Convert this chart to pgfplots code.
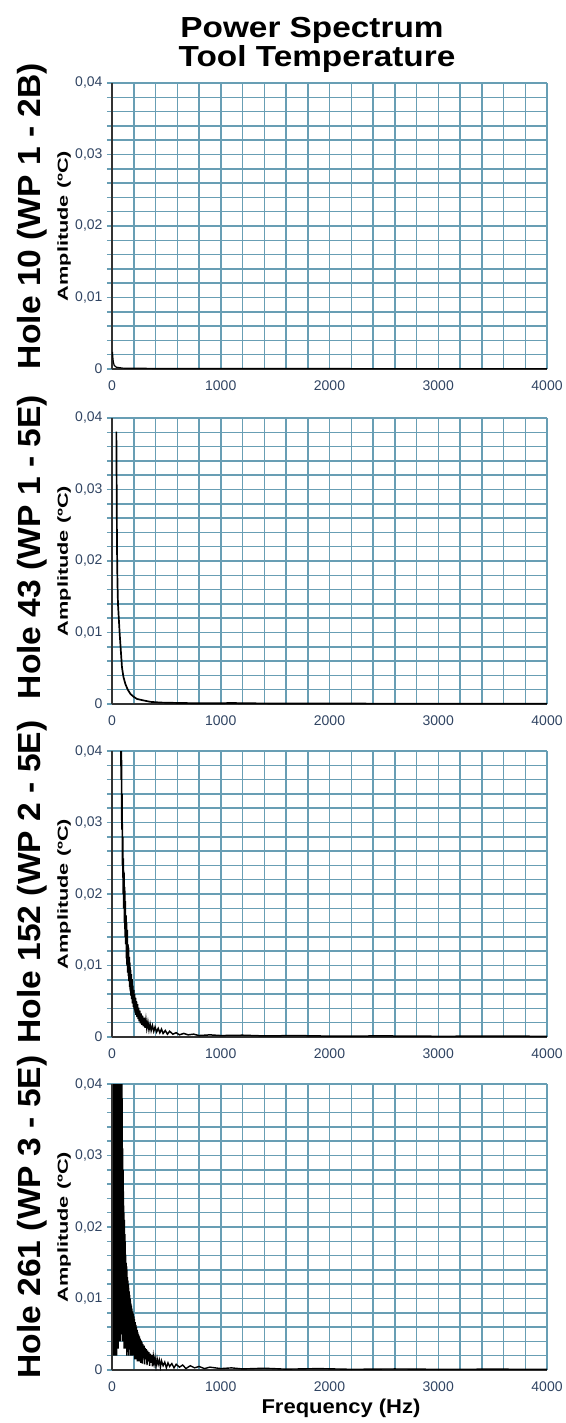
\documentclass[border=0pt]{standalone}
\usepackage{fontspec}
\setmainfont{Liberation Sans}
\usepackage{pgfplots}
\pgfplotsset{compat=1.18}
\definecolor{gridc}{RGB}{104,158,180}
\definecolor{tickc}{RGB}{48,68,98}
\pgfplotsset{panel/.style={
  scale only axis, width=435pt, height=286pt,
  xmin=0,xmax=4000,ymin=0,ymax=0.04,
  scaled y ticks=false, scaled x ticks=false,
  xtick={0,1000,2000,3000,4000},
  xticklabels={0,1000,2000,3000,4000},
  minor x tick num=4,
  ytick={0,0.01,0.02,0.03,0.04},
  yticklabels={0,{0,01},{0,02},{0,03},{0,04}},
  minor y tick num=4,
  grid=both,
  major grid style={gridc, line width=1.5pt},
  minor grid style={gridc, line width=1.5pt},
  axis lines=left, axis line style={-, black!80, line width=1.3pt},
  tick align=outside,
  major tick length=5pt, minor tick length=5pt,
  every major tick/.append style={gridc, line width=1.5pt},
  every minor tick/.append style={gridc, line width=1.5pt},
  every major x tick/.append style={draw=none},
  every minor x tick/.append style={draw=none},
  ticklabel style={font=\fontsize{14}{14}\selectfont, text=tickc},
  yticklabel style={xshift=-1pt},
  xticklabel style={yshift=-3pt},
}}
\begin{document}
\begin{tikzpicture}
\path[use as bounding box] (0,0) rectangle (565pt,-1423pt);
% Panel 1
\begin{axis}[panel, at={(112pt,-83pt)}, anchor=north west]
\addplot[black, line width=1.2pt] coordinates {
(4,0.0024) (8,0.0016) (12,0.0010) (20,0.0005) (40,0.00025) (100,0.00012) (400,0.00008) (1000,0.00006) (4000,0.00005)};
\end{axis}
% Panel 2
\begin{axis}[panel, at={(112pt,-418pt)}, anchor=north west]
\addplot[black, line width=1.7pt] coordinates {
(40,0.0381) (43,0.030) (46,0.0219) (50,0.0172) (55,0.0140) (62,0.0121) (70,0.0100) (77,0.0084) (85,0.0066) (92,0.0051) (105,0.0038) (123,0.0028) (145,0.0020) (170,0.0014) (200,0.0010) (231,0.0007) (290,0.0005) (354,0.0003) (450,0.0002) (600,0.00015) (800,0.0001) (1000,0.0001) (1100,0.00015) (1200,0.0001) (1500,0.00008) (2000,0.00006) (3000,0.00005) (4000,0.00005)};
\end{axis}
% Panel 3
\begin{axis}[panel, at={(112pt,-751pt)}, anchor=north west]
\addplot[black, line width=1.5pt] coordinates {
(80,0.042) (84,0.036) (87,0.040) (90,0.029) (93,0.034) (96,0.024) (99,0.028) (102,0.020) (105,0.025) (108,0.018) (111,0.023) (114,0.016) (117,0.021) (120,0.014) (123,0.019) (126,0.013) (129,0.017) (132,0.011) (135,0.016) (138,0.010) (141,0.015) (144,0.009) (147,0.013) (150,0.0085) (153,0.0125) (156,0.0078) (159,0.0112) (162,0.0070) (165,0.0104) (168,0.0064) (171,0.0094) (174,0.0058) (177,0.0088) (180,0.0053) (184,0.0081) (188,0.0047) (192,0.0072) (196,0.0042) (200,0.0066) (204,0.0039) (208,0.0060) (212,0.0034) (216,0.0055) (220,0.0031) (225,0.0050) (230,0.0028) (235,0.0046) (240,0.0025) (245,0.0041) (250,0.0022) (256,0.0037) (262,0.0019) (268,0.0033) (274,0.0017) (280,0.0030) (288,0.0015) (296,0.0027) (304,0.0013) (312,0.0024) (320,0.0012) (330,0.0021) (340,0.0010) (350,0.0018) (360,0.0009) (372,0.0016) (384,0.0008) (396,0.0014) (410,0.0007) (425,0.0012) (440,0.0006) (455,0.0011) (470,0.0005) (490,0.0009) (510,0.0004) (530,0.0008) (560,0.0004) (590,0.0006) (620,0.0003) (660,0.0005) (700,0.0003) (750,0.0004) (800,0.0002) (900,0.0003) (1000,0.0002) (1200,0.00025) (1400,0.00015) (1700,0.0002) (2000,0.00012) (2500,0.00015) (3000,0.0001) (3500,0.00012) (4000,0.0001)};
\end{axis}
% Panel 4
\begin{axis}[panel, at={(112pt,-1084pt)}, anchor=north west]
\addplot[black, line width=1.4pt] coordinates {
(16,0.002) (18,0.045) (20,0.003) (22,0.045) (24,0.002) (26,0.045) (28,0.004) (30,0.045) (32,0.002) (34,0.045) (36,0.003) (38,0.045) (40,0.005) (42,0.045) (44,0.002) (46,0.045) (48,0.003) (50,0.045) (52,0.006) (54,0.045) (56,0.003) (58,0.045) (60,0.004) (62,0.045) (64,0.008) (66,0.045) (68,0.004) (70,0.045) (72,0.005) (74,0.045) (76,0.010) (78,0.045) (80,0.004) (82,0.045) (84,0.006) (86,0.045) (88,0.009) (90,0.042) (92,0.005) (94,0.038) (96,0.007) (98,0.031) (100,0.004) (102,0.028) (104,0.008) (106,0.025) (108,0.005) (110,0.022) (112,0.003) (114,0.021) (116,0.007) (118,0.019) (120,0.004) (122,0.018) (124,0.006) (126,0.016) (128,0.003) (130,0.015) (132,0.006) (134,0.0145) (136,0.002) (138,0.014) (140,0.005) (142,0.013) (144,0.003) (146,0.0125) (148,0.006) (150,0.012) (152,0.002) (154,0.0115) (156,0.005) (158,0.011) (160,0.003) (162,0.0105) (164,0.006) (166,0.010) (168,0.002) (170,0.0097) (172,0.004) (174,0.0093) (176,0.002) (178,0.0090) (180,0.005) (183,0.0086) (186,0.002) (189,0.0082) (192,0.004) (195,0.0079) (198,0.002) (201,0.0075) (204,0.003) (207,0.0071) (210,0.0015) (213,0.0067) (216,0.003) (219,0.0063) (222,0.0015) (225,0.0060) (228,0.003) (231,0.0056) (234,0.0012) (237,0.0053) (240,0.0025) (244,0.0050) (248,0.0012) (252,0.0047) (256,0.0022) (260,0.0044) (264,0.0010) (268,0.0041) (272,0.0020) (276,0.0039) (280,0.0009) (285,0.0036) (290,0.0017) (295,0.0034) (300,0.0008) (305,0.0031) (310,0.0015) (316,0.0029) (322,0.0007) (328,0.0027) (334,0.0012) (340,0.0025) (346,0.0006) (352,0.0023) (358,0.0010) (365,0.0021) (372,0.0005) (380,0.0019) (388,0.0009) (396,0.0017) (405,0.0005) (415,0.0016) (425,0.0008) (435,0.0014) (445,0.0004) (455,0.0013) (470,0.0006) (485,0.0011) (500,0.0003) (515,0.0010) (530,0.0005) (550,0.0009) (570,0.0003) (590,0.0008) (620,0.0004) (650,0.0007) (680,0.0002) (720,0.0006) (760,0.0003) (800,0.0005) (850,0.0002) (900,0.0004) (1000,0.0002) (1100,0.0003) (1200,0.00015) (1400,0.00025) (1600,0.00012) (1900,0.0002) (2200,0.0001) (2600,0.00015) (3000,0.0001) (3500,0.00012) (4000,0.0001)};
\end{axis}
% Titles and labels
\node[anchor=base, font=\bfseries\fontsize{29}{29}\selectfont, xscale=1.15] at (312pt,-38pt) {Power Spectrum};
\node[anchor=base, font=\bfseries\fontsize{29}{29}\selectfont, xscale=1.15] at (317pt,-67pt) {Tool Temperature};
\foreach \c/\t in {216/{Hole 10 (WP 1 - 2B)}, 547/{Hole 43 (WP 1 - 5E)}, 882/{Hole 152 (WP 2 - 5E)}, 1217/{Hole 261 (WP 3 - 5E)}}{
  \node[rotate=90, font=\bfseries\fontsize{32}{32}\selectfont] at (32pt,-\c pt) {\scalebox{1.05}[1]{\t}};
}
\foreach \c in {226,561,894,1227}{
  \node[rotate=90, font=\bfseries\fontsize{14.5}{14.5}\selectfont] at (64pt,-\c pt) {\scalebox{1.5}[1]{Amplitude (ºC)}};
}
\node[anchor=base, font=\bfseries\fontsize{20}{20}\selectfont, xscale=1.1] at (341pt,-1413pt) {Frequency (Hz)};
\end{tikzpicture}
\end{document}
